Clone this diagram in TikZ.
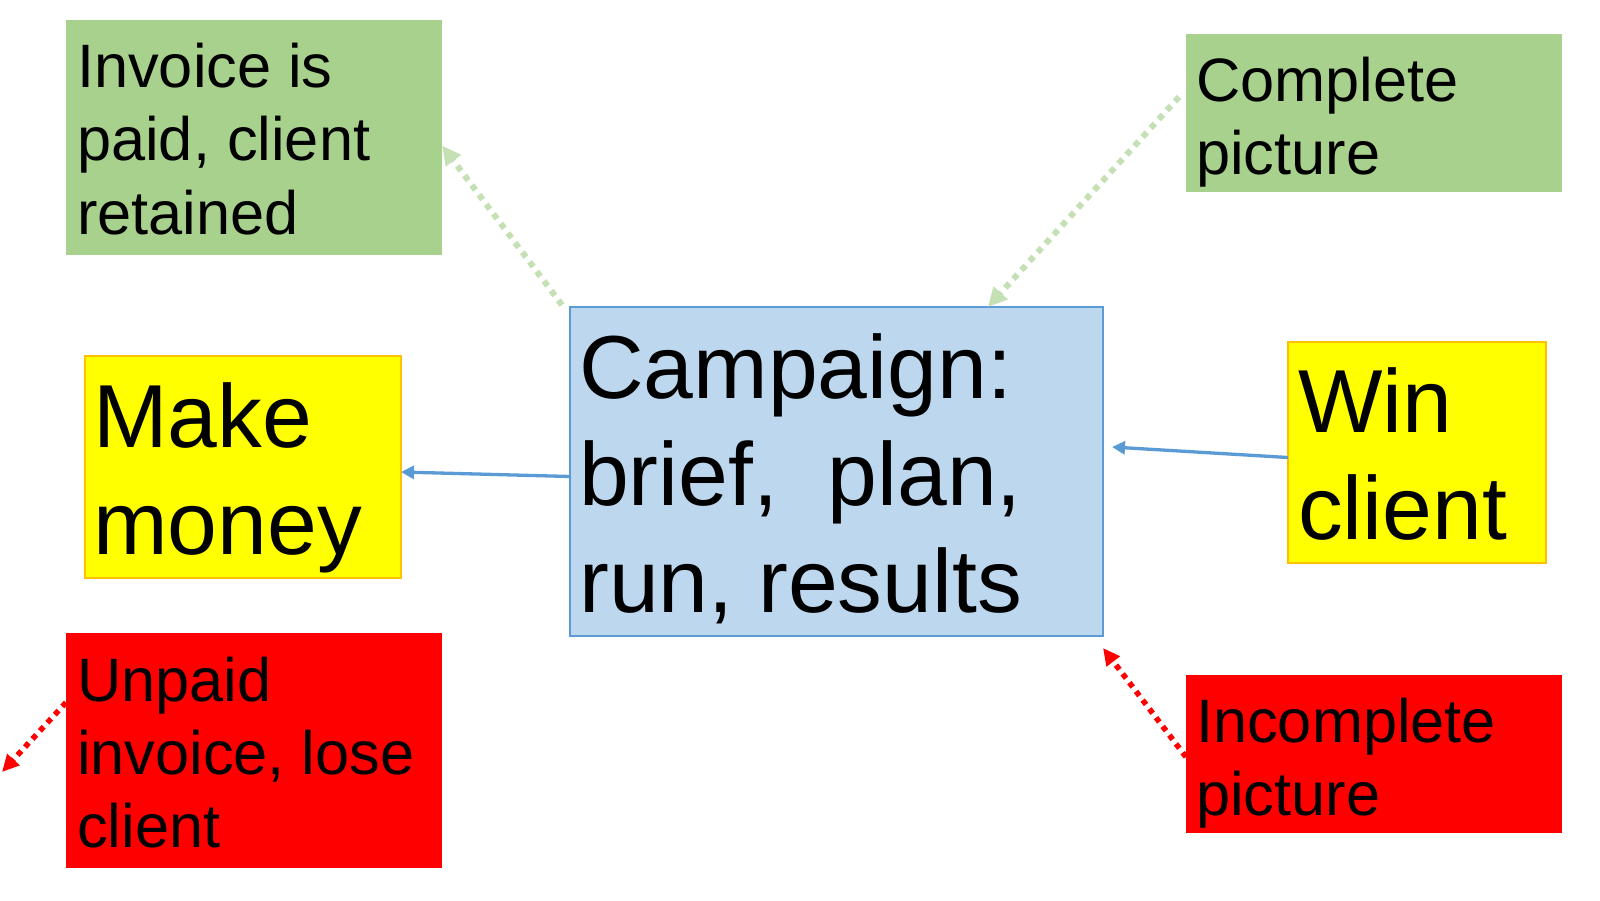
\documentclass[tikz,border=0pt]{standalone}
\usepackage{fontspec}
\setmainfont{Liberation Sans}
\usetikzlibrary{arrows.meta,calc}
\definecolor{gbox}{HTML}{A9D18E}
\definecolor{bbox}{HTML}{BDD7EE}
\definecolor{bline}{HTML}{5B9BD5}
\definecolor{ybox}{HTML}{FFFF00}
\definecolor{yline}{HTML}{FFC000}
\definecolor{rbox}{HTML}{FF0000}
\definecolor{gdot}{HTML}{C5E0B4}
\frenchspacing
\begin{document}
\begin{tikzpicture}[x=1pt,y=-1pt,
  box/.style={rectangle, inner sep=0pt, outer sep=0pt, anchor=north west},
  greenbox/.style={box, fill=gbox, minimum width=376pt, minimum height=235pt},
  greenboxs/.style={box, fill=gbox, minimum width=376pt, minimum height=158pt},
  redbox/.style={box, fill=rbox, minimum width=376pt, minimum height=235pt},
  redboxs/.style={box, fill=rbox, minimum width=376pt, minimum height=158pt},
  yelbox/.style={box, fill=ybox, draw=yline, line width=1.5pt},
  bluebox/.style={box, fill=bbox, draw=bline, line width=2pt},
  smalltxt/.style={inner sep=0pt, anchor=base west, align=flush left, text width=380pt,
    font=\fontsize{61.3}{73.3}\selectfont},
  bigtxt/.style={inner sep=0pt, anchor=base west, align=flush left, text width=520pt,
    font=\fontsize{89.5}{107}\selectfont},
  bluearrow/.style={draw=bline, line width=3.3pt, -{Triangle[length=13pt,width=13pt]}},
  greendots/.style={draw=gdot, line width=6pt, dash pattern=on 6pt off 6pt,
    -{Triangle[length=19pt,width=18pt]}},
  reddots/.style={draw=rbox, line width=5.5pt, dash pattern=on 5.5pt off 5.5pt,
    -{Triangle[length=17pt,width=16pt]}}
]
\useasboundingbox (0,0) rectangle (1600,900);
\fill[white] (0,0) rectangle (1600,900);

% boxes
\node[greenbox] (tl) at (66,20) {};
\node[greenboxs] (tr) at (1186,34) {};
\node[bluebox, minimum width=533pt, minimum height=329pt] (c) at (570,307) {};
\node[yelbox, minimum width=316pt, minimum height=222pt] (ml) at (85,356) {};
\node[yelbox, minimum width=258pt, minimum height=221pt] (wr) at (1288,342) {};
\node[redbox] (bl) at (66,633) {};
\node[redboxs] (br) at (1186,675) {};

% free end
\coordinate (blend) at (2,772);

% connectors
\draw[bluearrow] ([yshift=-5pt]c.west) -- ([yshift=-5pt]ml.east);
\draw[bluearrow] ([yshift=-5pt]wr.west) -- ([xshift=9pt,yshift=24.5pt]c.east);
\draw[greendots] ([xshift=-8pt,yshift=2pt]c.north west) -- ([yshift=-8pt]tl.east);
\draw[greendots] ([xshift=-7pt,yshift=16pt]tr.west) -- ($(c.north west)!0.784!(c.north east)$);
\draw[reddots] ([yshift=48pt]bl.west) -- (blend);
\draw[reddots] ([yshift=-3pt]br.west) -- ([yshift=-12pt]c.south east);

% texts
\node[smalltxt] (tlt) at (77,87.5) {Invoice is\\paid, client\\retained};
\node[smalltxt] (trt) at (1196,101.5) {Complete\\picture};
\node[bigtxt] (ct) at (579,398) {Campaign:\\brief,\ \ plan,\\run, results};
\node[bigtxt] (mlt) at (93,447) {Make\\money};
\node[bigtxt] (wrt) at (1298,432) {Win\\client};
\node[smalltxt] (blt) at (77,701) {Unpaid\\invoice, lose\\client};
\node[smalltxt] (brt) at (1196,742) {Incomplete\\picture};
\end{tikzpicture}
\end{document}
